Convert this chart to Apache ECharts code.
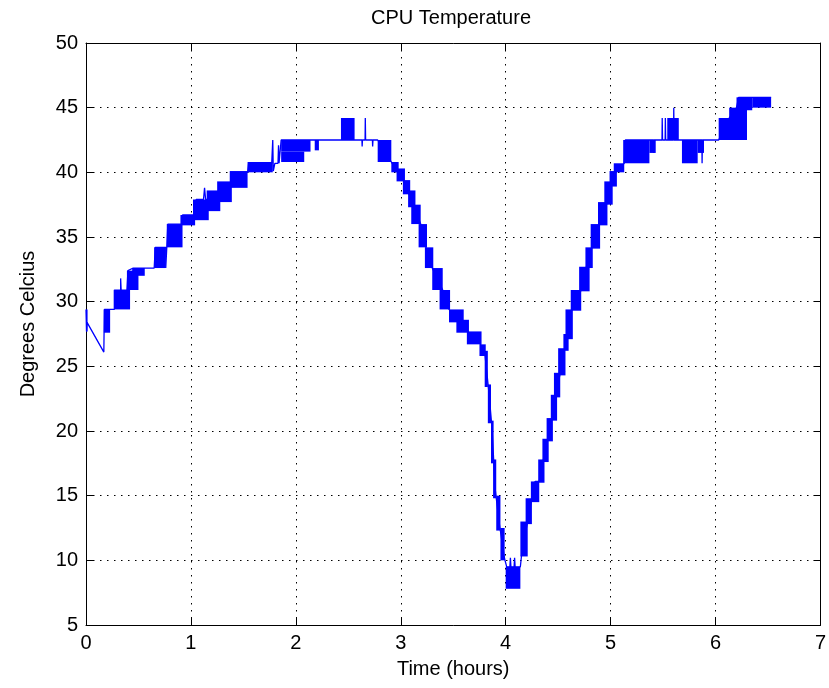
<!DOCTYPE html>
<html lang="en">

<head>
  <meta charset="UTF-8">
  <title>CPU Temperature</title>
  <script src="https://cdn.jsdelivr.net/npm/echarts@6/dist/echarts.min.js"></script>
</head>

<body style="margin: 0; background: #fff;">
  <div class="box" style="width: 829px;height: 688px;"></div>

  <script>
    // main trace: [time (hours), degrees]
    let tracePoints = [
      [0.00, 29.4], [0.005, 27.7], [0.01, 28.4], [0.17, 26.1], [0.175, 29.4], [0.27, 29.4],
      [0.27, 30.9], [0.33, 30.9], [0.33, 31.8], [0.335, 30.9], [0.39, 30.9], [0.40, 32.4],
      [0.45, 32.6], [0.65, 32.6], [0.66, 34.2], [0.76, 34.2], [0.76, 32.6], [0.77, 34.2],
      [0.78, 36.0], [0.92, 36.0], [0.92, 36.7], [1.04, 36.7], [1.05, 37.9], [1.12, 37.9],
      [1.13, 38.8], [1.14, 37.9], [1.17, 37.9], [1.28, 38.6], [1.39, 39.3], [1.45, 39.4],
      [1.47, 40.0], [1.54, 40.0], [1.55, 40.7], [1.77, 40.7], [1.78, 42.5], [1.785, 40.1],
      [1.80, 40.7], [1.83, 40.7], [1.835, 42.1], [1.84, 40.7], [1.86, 42.5], [2.25, 42.5],
      [2.63, 42.5], [2.632, 42.0], [2.635, 42.5], [2.66, 42.5], [2.662, 44.2], [2.665, 42.5],
      [2.73, 42.5], [2.732, 42.0], [2.735, 42.5], [2.78, 42.5], [2.91, 40.8], [2.97, 40.0],
      [3.03, 39.3], [3.08, 38.3], [3.13, 37.3], [3.19, 36.0], [3.24, 34.2], [3.30, 32.6],
      [3.40, 30.9], [3.46, 29.4], [3.55, 28.5], [3.64, 27.7], [3.76, 26.7], [3.80, 26.1],
      [3.84, 23.0], [3.87, 20.2], [3.90, 15.5], [3.94, 12.8], [3.99, 10.1], [4.01, 9.5],
      [4.04, 9.5], [4.045, 10.2], [4.05, 9.5], [4.08, 9.5], [4.085, 10.2], [4.09, 9.5],
      [4.14, 9.5], [4.15, 10.3], [4.18, 11.8], [4.21, 13.0], [4.25, 14.8], [4.28, 16.1],
      [4.32, 16.1], [4.36, 17.8], [4.40, 19.3], [4.44, 21.0], [4.48, 22.7], [4.52, 24.5],
      [4.56, 26.3], [4.58, 27.1], [4.63, 29.4], [4.72, 30.9], [4.77, 32.7], [4.82, 34.2],
      [4.89, 36.0], [4.97, 37.7], [5.01, 39.3], [5.05, 40.0], [5.13, 40.7], [5.14, 42.5],
      [5.41, 42.5], [5.412, 41.5], [5.415, 42.5], [5.49, 42.5], [5.492, 44.2], [5.495, 42.5],
      [5.52, 42.5], [5.522, 44.2], [5.525, 42.5], [5.60, 42.5], [5.602, 45.0], [5.605, 42.5],
      [5.87, 42.5], [5.872, 40.7], [5.875, 42.5], [6.03, 42.5], [6.13, 44.2], [6.20, 45.0],
      [6.22, 45.8], [6.53, 45.8]
    ]

    // dense flicker blocks: [from, to, low, high]
    let blocks = [
      [0.00, 0.015, 27.7, 29.4], [0.17, 0.23, 27.6, 29.4], [0.27, 0.42, 29.4, 30.9],
      [0.39, 0.50, 30.9, 32.4], [0.44, 0.56, 32.0, 32.6], [0.65, 0.76, 32.6, 34.2],
      [0.77, 0.92, 34.2, 36.0], [0.90, 1.04, 35.9, 36.7], [1.02, 1.17, 36.3, 37.9],
      [1.15, 1.28, 37.0, 38.6], [1.25, 1.39, 37.7, 39.3], [1.37, 1.54, 38.8, 40.1],
      [1.54, 1.78, 40.0, 40.8], [1.86, 2.14, 41.6, 42.5], [1.86, 2.08, 40.8, 41.6],
      [2.18, 2.22, 41.7, 42.5], [2.43, 2.56, 42.5, 44.2], [2.78, 2.91, 40.8, 42.5],
      [2.91, 2.98, 40.0, 40.8], [2.96, 3.04, 39.3, 40.3], [3.02, 3.09, 38.3, 39.4],
      [3.07, 3.14, 37.3, 38.6], [3.10, 3.19, 36.0, 37.5], [3.17, 3.25, 34.2, 36.0],
      [3.23, 3.31, 32.6, 34.2], [3.30, 3.40, 30.9, 32.6], [3.37, 3.47, 29.4, 30.9],
      [3.46, 3.60, 28.4, 29.4], [3.53, 3.65, 27.6, 28.6], [3.63, 3.77, 26.7, 27.7],
      [3.75, 3.81, 25.8, 26.7], [3.80, 3.83, 23.4, 26.2], [3.83, 3.86, 20.6, 23.6],
      [3.86, 3.885, 17.5, 20.8], [3.88, 3.91, 14.8, 17.8], [3.91, 3.95, 12.3, 15.0],
      [3.95, 3.99, 10.0, 12.5], [4.00, 4.14, 7.8, 9.5], [4.14, 4.21, 10.3, 13.0],
      [4.19, 4.25, 12.8, 14.8], [4.24, 4.32, 14.5, 16.1], [4.31, 4.37, 16.0, 17.8],
      [4.35, 4.41, 17.6, 19.4], [4.39, 4.45, 19.2, 21.0], [4.43, 4.49, 20.8, 22.8],
      [4.46, 4.52, 22.6, 24.5], [4.50, 4.57, 24.3, 26.4], [4.55, 4.60, 26.2, 27.5],
      [4.57, 4.64, 27.1, 29.4], [4.62, 4.72, 29.3, 30.9], [4.70, 4.80, 30.8, 32.7],
      [4.76, 4.83, 32.6, 34.2], [4.81, 4.90, 34.1, 36.0], [4.88, 4.97, 35.9, 37.7],
      [4.94, 5.02, 37.5, 39.3], [4.99, 5.06, 38.9, 40.1], [5.03, 5.13, 40.0, 40.7],
      [5.12, 5.37, 40.7, 42.5], [5.37, 5.43, 41.5, 42.5], [5.54, 5.65, 42.5, 44.2],
      [5.68, 5.83, 40.7, 42.5], [5.83, 5.89, 41.5, 42.5], [6.03, 6.30, 42.5, 44.2],
      [6.13, 6.30, 44.2, 45.0], [6.20, 6.35, 44.8, 45.8], [6.35, 6.53, 45.0, 45.8]
    ]

    let font = 'Liberation Sans, Arial, sans-serif'
    let blue = '#0000ff'
    let dotted = { color: '#000', width: 1, type: [1.5, 5.5] }

    let myChart = echarts.init(document.querySelector('.box'))
    let option = {
      animation: false,
      backgroundColor: '#fff',
      title: {
        text: 'CPU Temperature',
        left: 446,
        top: 3,
        textAlign: 'center',
        textStyle: { fontFamily: font, fontSize: 20, fontWeight: 'normal', color: '#000' }
      },
      grid: { left: 86, top: 43, width: 735, height: 582 },
      xAxis: [{
        type: 'value',
        min: 0,
        max: 7,
        interval: 1,
        name: 'Time (hours)',
        nameLocation: 'middle',
        nameGap: 34,
        nameTextStyle: { fontFamily: font, fontSize: 20, color: '#000' },
        axisLine: { lineStyle: { color: '#000', width: 1 } },
        axisTick: { inside: true, length: 7, lineStyle: { color: '#000' } },
        axisLabel: { fontFamily: font, fontSize: 20, color: '#000', margin: 8 },
        splitLine: { show: true, lineStyle: dotted }
      }, {
        type: 'value',
        position: 'top',
        min: 0,
        max: 7,
        interval: 1,
        axisLine: { onZero: false, lineStyle: { color: '#000', width: 1 } },
        axisTick: { inside: true, length: 7, lineStyle: { color: '#000' } },
        axisLabel: { show: false },
        splitLine: { show: false }
      }],
      yAxis: [{
        type: 'value',
        min: 5,
        max: 50,
        interval: 5,
        name: 'Degrees Celcius',
        nameLocation: 'middle',
        nameGap: 48,
        nameTextStyle: { fontFamily: font, fontSize: 20, color: '#000', padding: [0, 0, 0, 20] },
        axisLine: { show: true, onZero: false, lineStyle: { color: '#000', width: 1 } },
        axisTick: { show: true, inside: true, length: 7, lineStyle: { color: '#000' } },
        axisLabel: { fontFamily: font, fontSize: 20, color: '#000', margin: 8 },
        splitLine: { show: true, lineStyle: dotted }
      }, {
        type: 'value',
        position: 'right',
        min: 5,
        max: 50,
        interval: 5,
        axisLine: { show: true, onZero: false, lineStyle: { color: '#000', width: 1 } },
        axisTick: { show: true, inside: true, length: 7, lineStyle: { color: '#000' } },
        axisLabel: { show: false },
        splitLine: { show: false }
      }],
      series: [{
        type: 'custom',
        name: 'blocks',
        clip: true,
        data: blocks,
        encode: { x: [0, 1], y: [2, 3] },
        renderItem: function (params, api) {
          let p0 = api.coord([api.value(0), api.value(3)])
          let p1 = api.coord([api.value(1), api.value(2)])
          return {
            type: 'rect',
            shape: { x: p0[0], y: p0[1], width: p1[0] - p0[0], height: p1[1] - p0[1] },
            style: { fill: blue }
          }
        }
      }, {
        type: 'line',
        name: 'CPU',
        data: tracePoints,
        showSymbol: false,
        clip: true,
        lineStyle: { color: blue, width: 1.3 }
      }]
    }
    myChart.setOption(option)
  </script>
</body>

</html>
